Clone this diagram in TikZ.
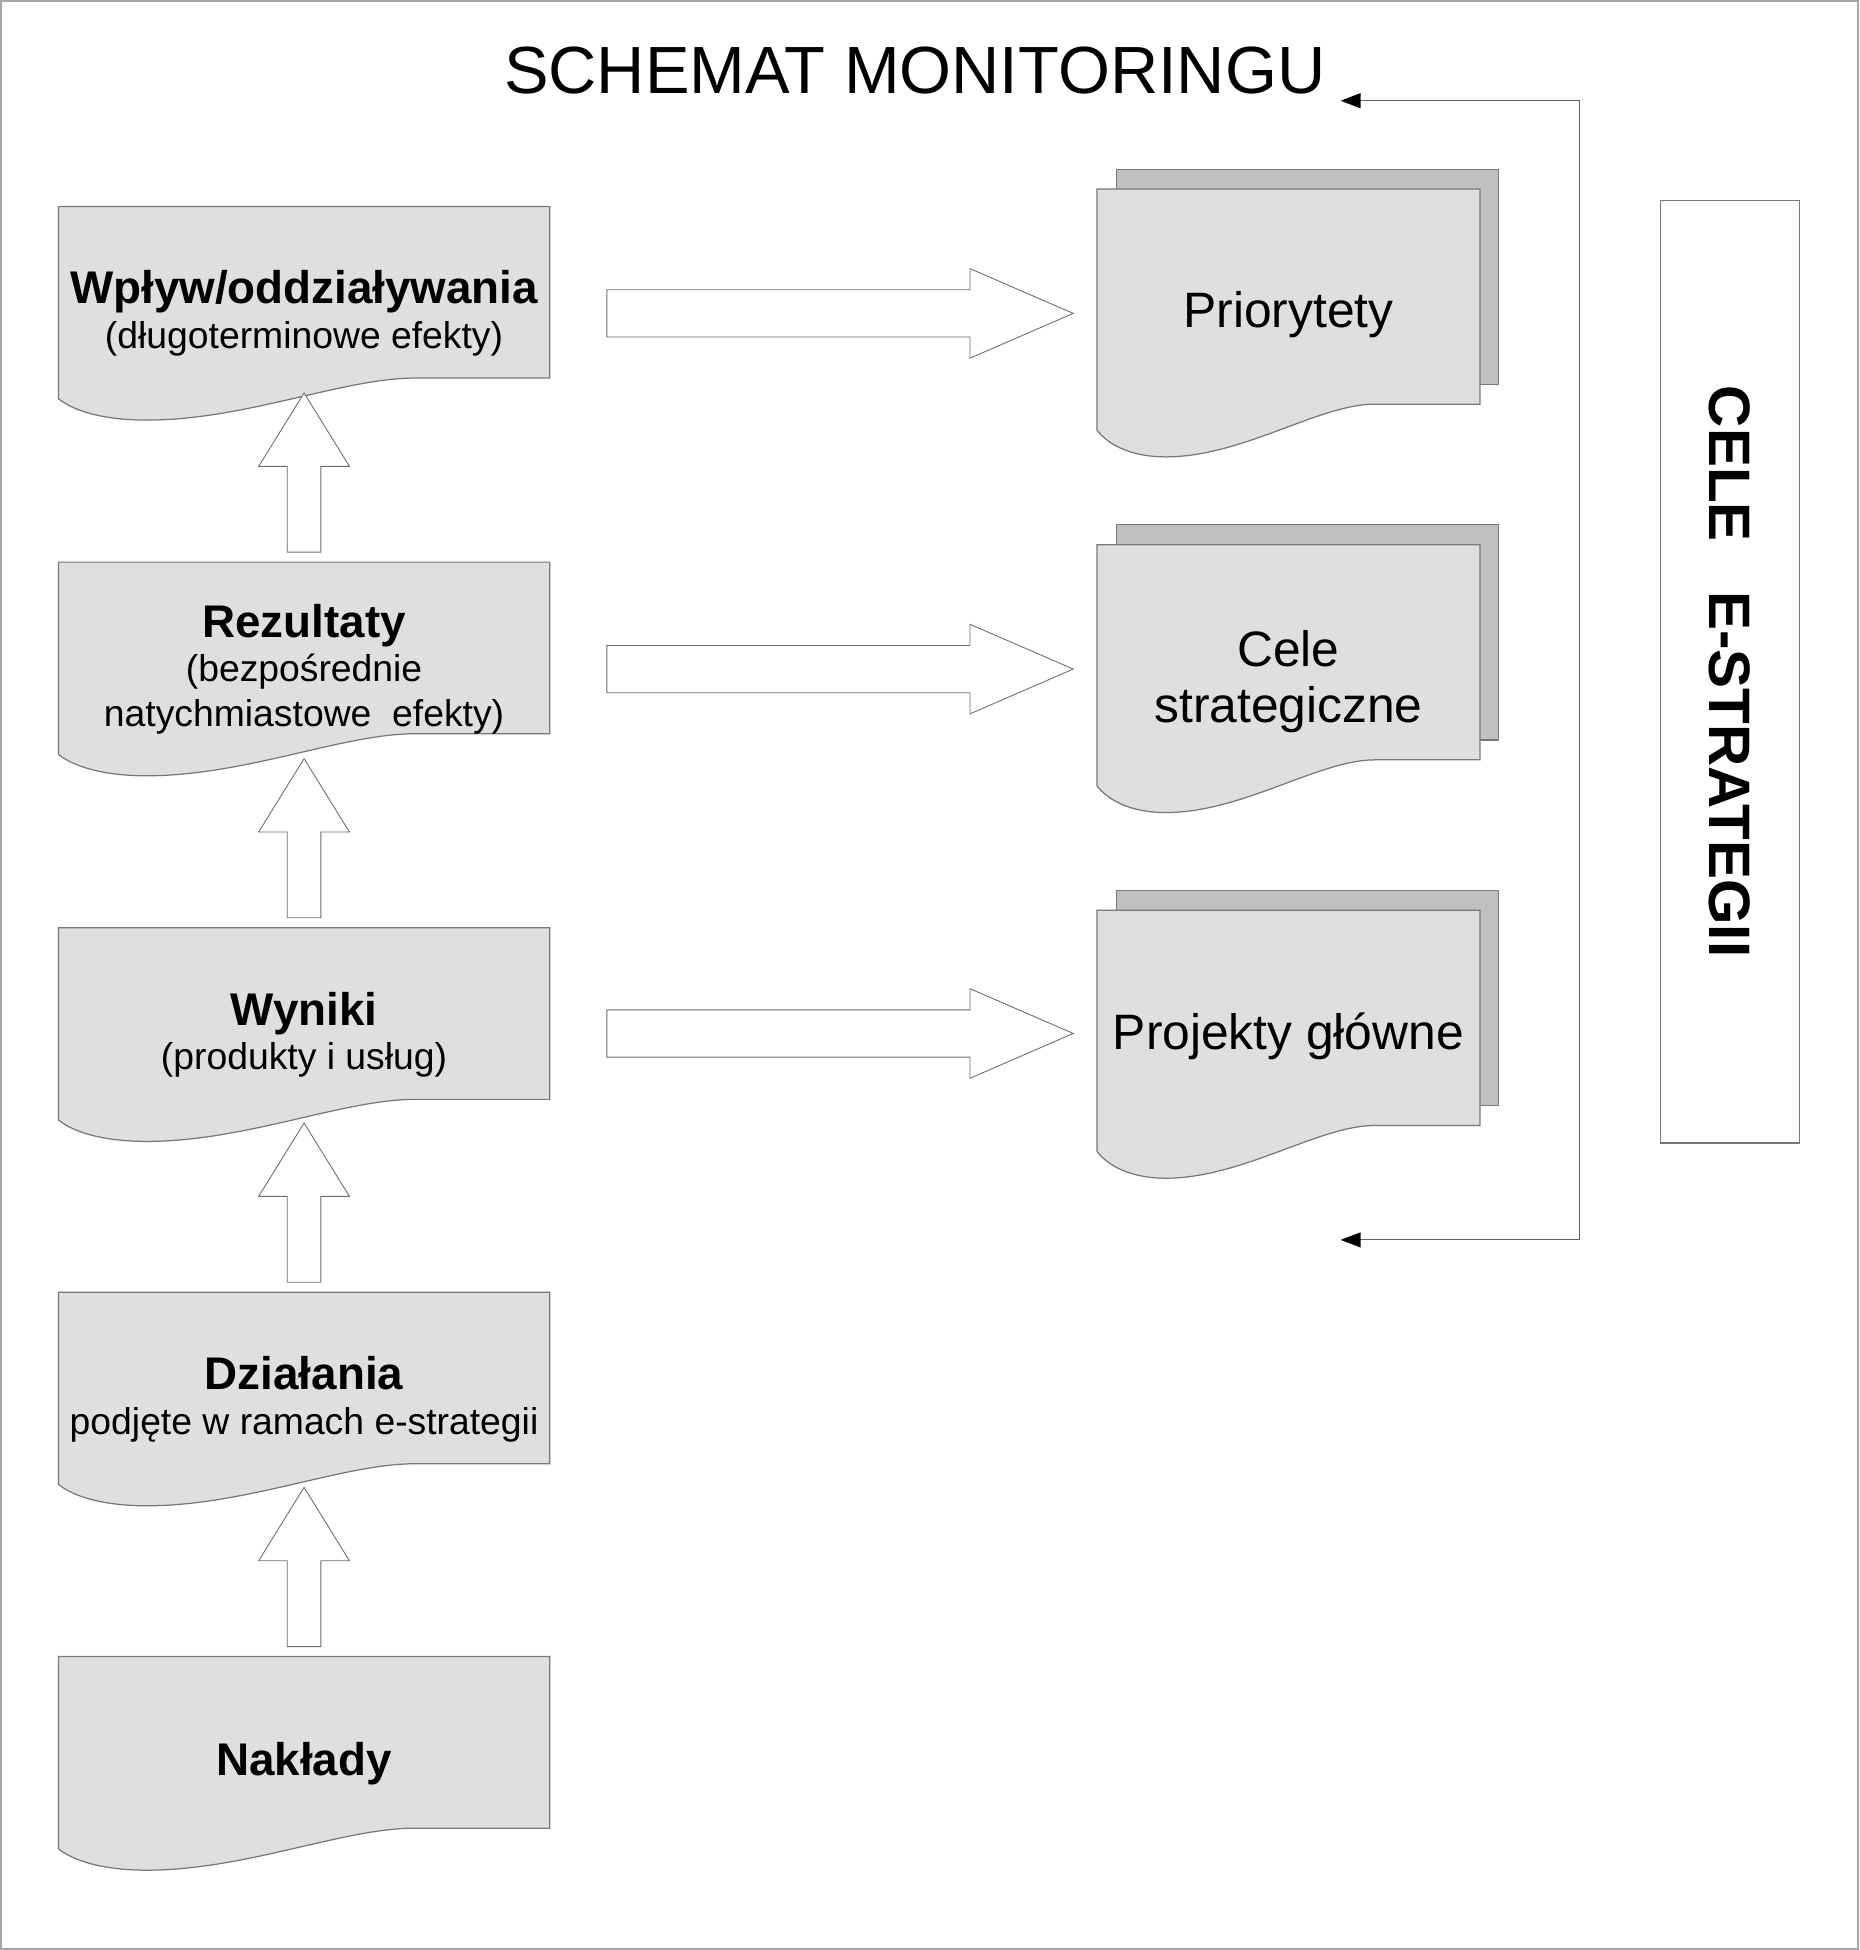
\documentclass[tikz,border=0pt]{standalone}
\usepackage{fontspec}
\setmainfont{Liberation Sans}
\usetikzlibrary{arrows.meta,calc,positioning}

\definecolor{kartka}{HTML}{DFDFDF}
\definecolor{kartkatyl}{HTML}{C0C0C0}
\definecolor{obrys}{HTML}{787878}

\tikzset{
  kartka/.style={draw=obrys, fill=kartka, line width=1pt},
  kartkatyl/.style={draw=obrys, fill=kartkatyl, line width=1pt},
  grubastrzalka/.style={draw=obrys!90!black, fill=white, line width=0.7pt},
  petla/.style={draw=obrys!80!black, line width=0.9pt,
    {Triangle[length=16pt,width=12pt,color=black]}-{Triangle[length=16pt,width=12pt,color=black]}},
  opis/.style={align=center, inner sep=0pt, font=\fontsize{30}{36}\selectfont},
  duzy/.style={align=center, inner sep=0pt, font=\fontsize{40}{45}\selectfont},
}

% dokument z falistym dolem, w jednostkach (xscale/yscale)
\newcommand{\falka}{(0,0) -- (1,0) -- (1,-1) -- (0.725,-1)
  .. controls (0.58,-1) and (0.38,-1.245) .. (0.18,-1.245)
  .. controls (0.09,-1.245) and (0.03,-1.19) .. (0,-1.12) -- cycle}
\newcommand{\mocny}[1]{{\fontsize{36.8}{36}\selectfont\bfseries #1}}

\begin{document}
\begin{tikzpicture}[x=1pt,y=1pt]
\useasboundingbox (0,0) rectangle (1495,-1568);
\draw[obrys!65, line width=2pt] (1,-1) rectangle (1494,-1567);

% Tytul
\node[font=\fontsize{53.7}{60}\selectfont, inner sep=0pt] (tytul) at (735.5,-57) {SCHEMAT MONITORINGU};

% Lewa kolumna (lancuch efektow)
\coordinate (wplyw-nw) at (47,-166);
\coordinate (rezultaty-nw) at (47,-452);
\coordinate (wyniki-nw) at (47,-746);
\coordinate (dzialania-nw) at (47,-1039);
\coordinate (naklady-nw) at (47,-1332);

\draw[kartka, shift={(wplyw-nw)}, xscale=395, yscale=138] \falka;
\draw[kartka, shift={(rezultaty-nw)}, xscale=395, yscale=138] \falka;
\draw[kartka, shift={(wyniki-nw)}, xscale=395, yscale=138] \falka;
\draw[kartka, shift={(dzialania-nw)}, xscale=395, yscale=138] \falka;
\draw[kartka, shift={(naklady-nw)}, xscale=395, yscale=138] \falka;

\node[opis] (wplyw) at ($(wplyw-nw)+(197.5,-86)$) {\mocny{Wpływ/oddziaływania}\\(długoterminowe efekty)};
\node[opis] (rezultaty) at ($(rezultaty-nw)+(197.5,-86)$) {\mocny{Rezultaty}\\(bezpośrednie\\natychmiastowe\ \ efekty)};
\node[opis] (wyniki) at ($(wyniki-nw)+(197.5,-86)$) {\mocny{Wyniki}\\(produkty i usług)};
\node[opis] (dzialania) at ($(dzialania-nw)+(197.5,-86)$) {\mocny{Działania}\\podjęte w ramach e-strategii};
\node[opis] (naklady) at ($(naklady-nw)+(197.5,-86)$) {\mocny{Nakłady}};

% Strzalki w gore
\draw[grubastrzalka, shift={($(rezultaty-nw)+(197.5,8)$)}] (-13.5,0) -- (-13.5,69) -- (-36.5,69) -- (0,128) -- (36.5,69) -- (13.5,69) -- (13.5,0) -- cycle;
\draw[grubastrzalka, shift={($(wyniki-nw)+(197.5,8)$)}] (-13.5,0) -- (-13.5,69) -- (-36.5,69) -- (0,128) -- (36.5,69) -- (13.5,69) -- (13.5,0) -- cycle;
\draw[grubastrzalka, shift={($(dzialania-nw)+(197.5,8)$)}] (-13.5,0) -- (-13.5,69) -- (-36.5,69) -- (0,128) -- (36.5,69) -- (13.5,69) -- (13.5,0) -- cycle;
\draw[grubastrzalka, shift={($(naklady-nw)+(197.5,8)$)}] (-13.5,0) -- (-13.5,69) -- (-36.5,69) -- (0,128) -- (36.5,69) -- (13.5,69) -- (13.5,0) -- cycle;

% Prawa kolumna (cele)
\coordinate (priorytety-nw) at (882,-152);
\coordinate (cele-nw) at (882,-438);
\coordinate (projekty-nw) at (882,-732);

\draw[kartkatyl] ($(priorytety-nw)+(16,16)$) rectangle ++(307,-173);
\draw[kartka, shift={(priorytety-nw)}, xscale=308, yscale=173] \falka;
\draw[kartkatyl] ($(cele-nw)+(16,16)$) rectangle ++(307,-173);
\draw[kartka, shift={(cele-nw)}, xscale=308, yscale=173] \falka;
\draw[kartkatyl] ($(projekty-nw)+(16,16)$) rectangle ++(307,-173);
\draw[kartka, shift={(projekty-nw)}, xscale=308, yscale=173] \falka;

\node[duzy] (priorytety) at ($(priorytety-nw)+(154,-100.6)$) {Priorytety};
\node[duzy] (cele) at ($(cele-nw)+(154,-110)$) {Cele\\strategiczne};
\node[duzy] (projekty) at ($(projekty-nw)+(154,-101)$) {Projekty główne};

% Strzalki w prawo
\draw[grubastrzalka, shift={($(priorytety-nw)+(-394,-100)$)}] (0,-19) -- (292,-19) -- (292,-36) -- (375,0) -- (292,36) -- (292,19) -- (0,19) -- cycle;
\draw[grubastrzalka, shift={($(cele-nw)+(-394,-100)$)}] (0,-19) -- (292,-19) -- (292,-36) -- (375,0) -- (292,36) -- (292,19) -- (0,19) -- cycle;
\draw[grubastrzalka, shift={($(projekty-nw)+(-394,-99)$)}] (0,-19) -- (292,-19) -- (292,-36) -- (375,0) -- (292,36) -- (292,19) -- (0,19) -- cycle;

% Petla zwrotna
\coordinate (powrot-gora) at (1078,-81);
\coordinate (rog-gora) at (1270,-81);
\coordinate (rog-dol) at (1270,-997);
\coordinate (powrot-dol) at (1078,-997);
\draw[petla] (powrot-gora) -- (rog-gora) -- (rog-dol) -- (powrot-dol);

% Cele e-strategii
\node[draw=obrys, line width=1pt, rotate=-90, minimum width=758pt, minimum height=112pt, inner sep=0pt,
  font=\fontsize{47}{47}\selectfont\bfseries] (estrategia) at (1391,-540) {CELE\hspace{40pt}E-STRATEGII};
\end{tikzpicture}
\end{document}
